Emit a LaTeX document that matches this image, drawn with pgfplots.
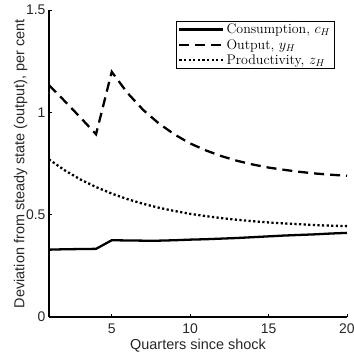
\documentclass[border=0pt]{standalone}
\usepackage{fontspec}
\usepackage{pgfplots}
\pgfplotsset{compat=1.18}
\newfontfamily\hv{Liberation Sans}
\definecolor{mgray}{rgb}{0.15,0.15,0.15}
\begin{document}
\begin{tikzpicture}
\begin{axis}[
  scale only axis,
  width=298bp, height=307bp,
  xmin=1, xmax=20, ymin=0, ymax=1.5,
  xtick={5,10,15,20}, ytick={0,0.5,1,1.5},
  yticklabels={0,0.5,1,1.5},
  axis lines*=left,
  axis line style={black, line width=1.5pt},
  tick style={black, line width=0.5pt},
  tick align=inside,
  major tick length=3bp,
  /pgf/number format/assume math mode=true,
  tick label style={font=\hv\fontsize{14}{16}\selectfont, text=mgray},
  xticklabel style={yshift=-3bp},
  label style={font=\hv\fontsize{14.5}{16}\selectfont, text=mgray},
  xlabel={Quarters since shock},
  ylabel={Deviation from steady state (output), per cent},
  xlabel style={yshift=1bp},
  ylabel style={yshift=-8bp},
  legend style={at={(0.958,0.965)}, anchor=north east, draw=black,
    font=\fontsize{14}{15.5}\selectfont, inner xsep=2bp, inner ysep=1bp, row sep=0pt},
  legend cell align=left,
  legend image code/.code={\draw[line width=2.3pt,#1] (0bp,0bp) -- (44bp,0bp);},
]
\addplot[black, line width=2.3pt] coordinates {
(1,0.329)(2,0.331)(3,0.332)(4,0.333)(5,0.375)(6,0.374)(7,0.373)(8,0.373)(9,0.375)(10,0.378)
(11,0.380)(12,0.383)(13,0.386)(14,0.390)(15,0.394)(16,0.398)(17,0.401)(18,0.404)(19,0.408)(20,0.411)};
\addlegendentry{Consumption, $c_H$}
\addplot[black, line width=2.3pt, dash pattern=on 10bp off 6bp] coordinates {
(1,1.133)(2,1.055)(3,0.975)(4,0.893)(5,1.198)(6,1.095)(7,1.012)(8,0.946)(9,0.892)(10,0.848)
(11,0.814)(12,0.786)(13,0.763)(14,0.745)(15,0.730)(16,0.719)(17,0.709)(18,0.701)(19,0.695)(20,0.690)};
\addlegendentry{Output, $y_H$}
\addplot[black, line width=2.3pt, dash pattern=on 2.2bp off 2.4bp] coordinates {
(1,0.770)(2,0.717)(3,0.672)(4,0.635)(5,0.603)(6,0.576)(7,0.553)(8,0.534)(9,0.518)(10,0.504)
(11,0.493)(12,0.483)(13,0.475)(14,0.468)(15,0.462)(16,0.457)(17,0.453)(18,0.449)(19,0.446)(20,0.444)};
\addlegendentry{Productivity, $z_H$}
\coordinate (sw) at (rel axis cs:0,0);
\coordinate (ne) at (rel axis cs:1,1);
\end{axis}
\pgfresetboundingbox
\path ([shift={(-49bp,-40bp)}]sw) rectangle ([shift={(7bp,10bp)}]ne);
\end{tikzpicture}
\end{document}
